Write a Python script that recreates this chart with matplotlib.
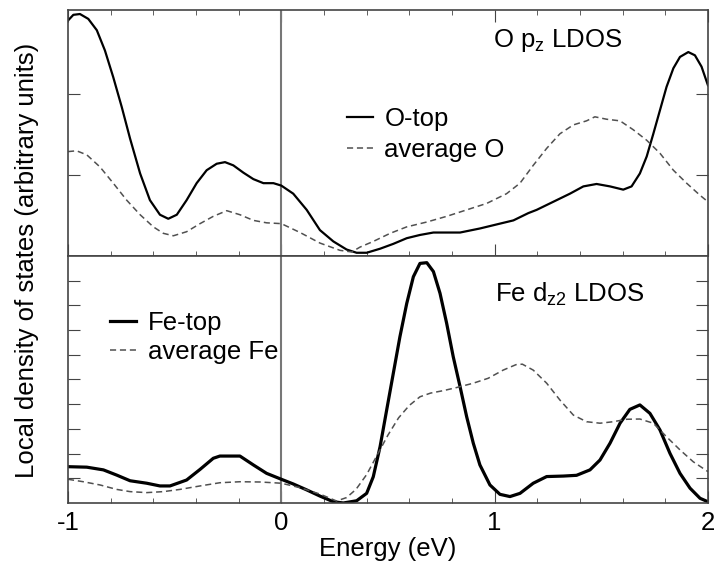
import matplotlib
matplotlib.use('Agg')
import matplotlib.pyplot as plt
import numpy as np

plt.rcParams['font.family'] = ['Liberation Sans', 'DejaVu Sans']
plt.rcParams['mathtext.default'] = 'regular'

# O pz LDOS (upper panel), energies in eV
o_top_e = [-1.0, -0.975, -0.944, -0.905, -0.865, -0.827, -0.788, -0.748, -0.709, -0.662, -0.616, -0.569,
           -0.53, -0.49, -0.444, -0.397, -0.35, -0.303, -0.264, -0.225, -0.178, -0.131, -0.084, -0.037,
           0.0, 0.056, 0.119, 0.181, 0.244, 0.306, 0.353, 0.4, 0.463, 0.525, 0.588, 0.65, 0.713, 0.838,
           0.931, 1.025, 1.088, 1.158, 1.197, 1.275, 1.353, 1.416, 1.478, 1.541, 1.603, 1.642, 1.681,
           1.713, 1.744, 1.775, 1.806, 1.838, 1.869, 1.908, 1.939, 1.97, 2.0]
o_top = [2.91, 2.98, 2.99, 2.93, 2.79, 2.54, 2.21, 1.84, 1.45, 1.02, 0.69, 0.51,
         0.46, 0.51, 0.69, 0.90, 1.06, 1.14, 1.16, 1.12, 1.03, 0.95, 0.90, 0.90,
         0.87, 0.77, 0.57, 0.32, 0.18, 0.08, 0.04, 0.04, 0.09, 0.15, 0.22, 0.26, 0.29, 0.29,
         0.34, 0.40, 0.44, 0.53, 0.57, 0.67, 0.77, 0.86, 0.89, 0.86, 0.82, 0.86, 1.02,
         1.23, 1.51, 1.80, 2.09, 2.32, 2.46, 2.52, 2.48, 2.34, 2.11]
o_avg_e = [-1.0, -0.96, -0.912, -0.85, -0.788, -0.725, -0.662, -0.6, -0.553, -0.506, -0.444, -0.381,
           -0.319, -0.256, -0.194, -0.131, -0.069, 0.0, 0.088, 0.181, 0.275, 0.33, 0.369, 0.431, 0.51,
           0.588, 0.682, 0.775, 0.869, 0.963, 1.056, 1.119, 1.181, 1.244, 1.306, 1.369, 1.431, 1.47,
           1.525, 1.588, 1.65, 1.713, 1.775, 1.838, 1.9, 1.963, 2.0]
o_avg = [1.29, 1.30, 1.25, 1.10, 0.90, 0.69, 0.51, 0.36, 0.28, 0.25, 0.30, 0.40,
         0.49, 0.56, 0.51, 0.44, 0.41, 0.40, 0.29, 0.16, 0.07, 0.05, 0.11, 0.18, 0.28,
         0.36, 0.42, 0.49, 0.57, 0.65, 0.77, 0.90, 1.12, 1.33, 1.51, 1.62, 1.67, 1.72,
         1.69, 1.67, 1.56, 1.43, 1.27, 1.06, 0.90, 0.75, 0.67]

# Fe dz2 LDOS (lower panel)
fe_top_e = [-1.0, -0.912, -0.834, -0.772, -0.709, -0.631, -0.569, -0.522, -0.444, -0.381, -0.319, -0.288,
            -0.194, -0.131, -0.069, 0.0, 0.056, 0.119, 0.181, 0.244, 0.291, 0.353, 0.4, 0.431, 0.463,
            0.494, 0.525, 0.556, 0.588, 0.619, 0.65, 0.682, 0.713, 0.744, 0.775, 0.806, 0.838, 0.869,
            0.9, 0.931, 0.978, 1.025, 1.072, 1.119, 1.181, 1.244, 1.322, 1.384, 1.447, 1.494, 1.541,
            1.588, 1.634, 1.681, 1.728, 1.775, 1.822, 1.869, 1.916, 1.963, 2.0]
fe_top = [1.47, 1.45, 1.34, 1.13, 0.90, 0.80, 0.69, 0.69, 0.93, 1.36, 1.81, 1.90,
          1.90, 1.54, 1.20, 0.96, 0.77, 0.53, 0.28, 0.05, 0.0, 0.09, 0.39, 1.06, 2.28,
          3.77, 5.25, 6.73, 8.08, 9.16, 9.70, 9.73, 9.37, 8.49, 7.28, 5.92, 4.71, 3.49,
          2.42, 1.54, 0.73, 0.35, 0.26, 0.39, 0.80, 1.07, 1.09, 1.12, 1.34, 1.74, 2.42,
          3.23, 3.79, 3.97, 3.63, 2.96, 2.01, 1.20, 0.60, 0.19, 0.05]
fe_avg_e = [-1.0, -0.928, -0.85, -0.772, -0.709, -0.631, -0.553, -0.475, -0.381, -0.288, -0.194, -0.1,
            0.0, 0.088, 0.181, 0.259, 0.306, 0.35, 0.4, 0.45, 0.5, 0.55, 0.6, 0.65, 0.7, 0.76, 0.82,
            0.9, 0.97, 1.04, 1.1, 1.13, 1.181, 1.244, 1.306, 1.369, 1.431, 1.494, 1.556, 1.619, 1.681,
            1.744, 1.806, 1.869, 1.931, 2.0]
fe_avg = [0.96, 0.86, 0.73, 0.55, 0.46, 0.42, 0.46, 0.55, 0.69, 0.82, 0.86, 0.85,
          0.80, 0.62, 0.36, 0.08, 0.22, 0.55, 1.15, 1.95, 2.75, 3.45, 3.95, 4.30, 4.45, 4.55, 4.67,
          4.85, 5.05, 5.38, 5.60, 5.62, 5.38, 4.85, 4.17, 3.56, 3.29, 3.23, 3.29, 3.39, 3.40,
          3.23, 2.68, 2.15, 1.67, 1.27]

fig = plt.figure(figsize=(7.19, 5.67), dpi=100)
ax1 = fig.add_axes([0.0946, 0.5485, 0.8900, 0.4339])
ax2 = fig.add_axes([0.0946, 0.1129, 0.8900, 0.4356])

fs = 18.5
gray = '#505050'
for ax in (ax1, ax2):
    ax.axvline(0, color='#777777', lw=1.5)
    ax.set_xlim(-1, 2)
    ax.set_xticks(np.arange(-1, 2.01, 1))
    ax.set_xticks(np.arange(-1, 2.01, 0.2), minor=True)
    ax.tick_params(which='both', direction='in', top=True, right=True, color='#444444',
                   labelleft=False)
    ax.tick_params(axis='x', which='major', length=8.5)
    ax.tick_params(axis='x', which='minor', length=3.8)
    ax.tick_params(axis='y', length=8.5)
    for s in ax.spines.values():
        s.set_color('#444444')
        s.set_linewidth(1.2)

ax1.plot(o_top_e, o_top, color='black', lw=1.6, label='O-top')
ax1.plot(o_avg_e, o_avg, color=gray, lw=1.1, ls=(0, (4, 2.5)), label='average O')
ax1.set_ylim(0, 3.04)
ax1.set_yticks([1, 2])
ax1.tick_params(labelbottom=False)
ax1.text(0.664, 0.85, r'O p$_{z}$ LDOS', transform=ax1.transAxes, fontsize=fs, va='baseline')
ax1.legend(loc='upper left', bbox_to_anchor=(0.436, 0.607), frameon=False, fontsize=fs,
           handlelength=1.0, handletextpad=0.45, labelspacing=0.3, borderaxespad=0, borderpad=0)

ax2.plot(fe_top_e, fe_top, color='black', lw=2.3, label='Fe-top')
ax2.plot(fe_avg_e, fe_avg, color=gray, lw=1.1, ls=(0, (4, 2.5)), label='average Fe')
ax2.set_ylim(0, 10)
ax2.set_yticks(range(1, 10))
ax2.tick_params(which='both', top=False)
ax2.tick_params(axis='x', labelsize=fs, pad=6)
ax2.text(0.667, 0.815, r'Fe d$_{z2}$ LDOS', transform=ax2.transAxes, fontsize=fs, va='baseline')
ax2.legend(loc='upper left', bbox_to_anchor=(0.066, 0.779), frameon=False, fontsize=fs,
           handlelength=1.0, handletextpad=0.45, labelspacing=0.2, borderaxespad=0, borderpad=0)
ax2.set_xticklabels(['-1', '0', '1', '2'])
ax2.set_xlabel('Energy (eV)', fontsize=fs, labelpad=1)

fig.text(0.037, 0.54, 'Local density of states (arbitrary units)', rotation=90,
         ha='center', va='center', fontsize=fs)

fig.savefig('out.png', dpi=100)
